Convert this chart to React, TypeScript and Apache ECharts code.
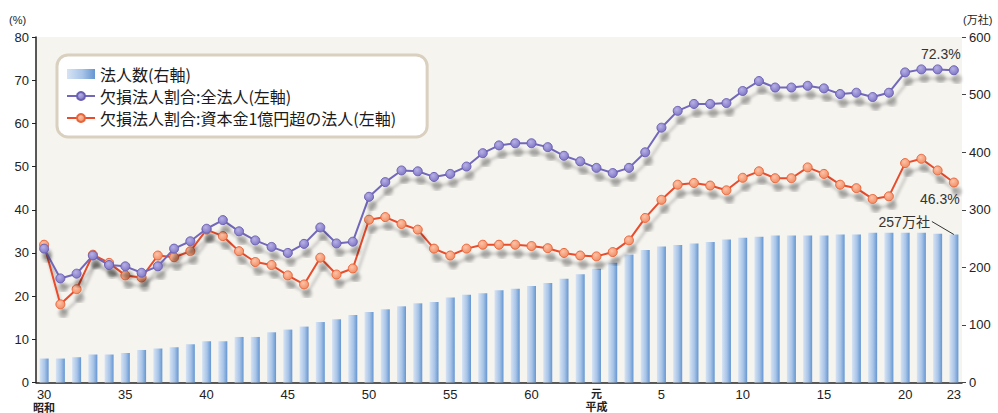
import React, { useEffect, useRef } from "react";
import * as echarts from "echarts";

// Fiscal years: Showa 30–63, then Heisei 元–23
const years = [
  "30", "31", "32", "33", "34", "35", "36", "37", "38", "39",
  "40", "41", "42", "43", "44", "45", "46", "47", "48", "49",
  "50", "51", "52", "53", "54", "55", "56", "57", "58", "59",
  "60", "61", "62", "63",
  "元", "2", "3", "4", "5", "6", "7", "8", "9", "10",
  "11", "12", "13", "14", "15", "16", "17", "18", "19", "20",
  "21", "22", "23",
];

// Number of corporations (万社, right axis)
const corpCount = [
  41.6, 41.6, 43.9, 48.6, 48.6, 51.4, 56.5, 59.0, 61.2, 66.4,
  71.6, 71.6, 79.1, 79.1, 87.2, 91.9, 97.1, 105.0, 109.8, 117.2,
  122.4, 127.1, 132.3, 137.5, 139.8, 147.4, 152.6, 154.8, 160.0, 163.0,
  167.5, 172.7, 180.3, 187.8,
  197.7, 208.0, 222.5, 230.0, 236.0, 238.6, 241.5, 243.8, 248.5, 251.4,
  253.2, 255.4, 255.4, 255.4, 255.4, 257.2, 257.2, 260.0, 260.0, 260.0,
  260.0, 258.5, 257,
];

// Share of loss-making corporations, all corporations (%, left axis)
const lossAll = [
  31.0, 24.1, 25.2, 29.4, 27.2, 26.9, 25.4, 26.9, 31.0, 32.7,
  35.6, 37.6, 35.0, 32.9, 31.4, 30.0, 32.1, 35.9, 32.2, 32.6,
  43.0, 46.4, 49.1, 48.9, 47.6, 48.3, 50.0, 53.1, 54.9, 55.4,
  55.4, 54.5, 52.5, 51.2,
  49.7, 48.5, 49.7, 53.3, 59.0, 62.9, 64.5, 64.5, 64.7, 67.5,
  69.8, 68.3, 68.3, 68.7, 68.1, 66.8, 67.1, 66.1, 67.1, 71.8,
  72.5, 72.5, 72.3,
];

// Share of loss-making corporations, capital over 100 million yen (%, left axis)
const lossLarge = [
  31.9, 18.1, 21.6, 29.6, 27.7, 24.8, 24.3, 29.4, 29.0, 30.4,
  35.4, 33.9, 30.4, 27.9, 27.2, 24.8, 22.7, 28.9, 25.0, 26.4,
  37.7, 38.3, 36.7, 35.4, 31.0, 29.4, 31.0, 31.9, 31.9, 31.9,
  31.6, 31.1, 30.0, 29.4,
  29.2, 30.2, 32.9, 38.1, 42.3, 45.8, 46.2, 45.6, 44.5, 47.4,
  48.9, 47.3, 47.3, 49.8, 48.3, 45.8, 45.0, 42.5, 43.1, 50.8,
  51.8, 49.1, 46.3,
];

const shownYearLabels = ["30", "35", "40", "45", "50", "55", "60", "元", "5", "10", "15", "20", "23"];
const leftTicks = { min: 0, max: 80, interval: 10 };
const rightTicks = { min: 0, max: 600, interval: 100 };

const seriesNames = [
  "法人数(右軸)",
  "欠損法人割合:全法人(左軸)",
  "欠損法人割合:資本金1億円超の法人(左軸)",
];

const FONT = '"Liberation Sans", "Noto Sans CJK JP", sans-serif';
const TEXT = "#222";

export default function App() {
  const ref = useRef<HTMLDivElement>(null);

  useEffect(() => {
    if (!ref.current) return;
    const chart = echarts.init(ref.current, undefined, { renderer: "svg" });
    const last = years.length - 1;

    const shadow = {
      shadowColor: "rgba(0,0,0,0.24)",
      shadowBlur: 3,
      shadowOffsetX: 3,
      shadowOffsetY: 9,
    };

    const barFill = new echarts.graphic.LinearGradient(0, 0, 1, 0, [
      { offset: 0, color: "#d6e3f4" },
      { offset: 0.55, color: "#a8c4e7" },
      { offset: 1, color: "#6496d1" },
    ]);
    const purpleFill = new echarts.graphic.RadialGradient(0.4, 0.35, 0.7, [
      { offset: 0, color: "#b7b1e4" },
      { offset: 1, color: "#7d73c6" },
    ]);
    const orangeFill = new echarts.graphic.RadialGradient(0.4, 0.35, 0.7, [
      { offset: 0, color: "#fbc3a8" },
      { offset: 1, color: "#f28a60" },
    ]);

    const unitLabels = [
      { type: "text", left: 9, top: 14, style: { text: "(%)", fontSize: 11, fill: TEXT, fontFamily: FONT } },
      { type: "text", left: 963, top: 14, style: { text: "(万社)", fontSize: 11, fill: TEXT, fontFamily: FONT } },
    ];

    chart.setOption({
      animation: false,
      textStyle: { fontFamily: FONT },
      grid: {
        left: 36,
        right: 36,
        top: 37,
        bottom: 30,
        show: true,
        backgroundColor: "#f5f4ef",
        borderWidth: 0,
      },
      legend: {
        orient: "vertical",
        left: 57,
        top: 55,
        backgroundColor: "#ffffff",
        borderColor: "#d9d0bf",
        borderWidth: 3,
        borderRadius: 11,
        padding: [11, 31, 11, 9],
        itemGap: 6,
        itemWidth: 28,
        itemHeight: 10,
        textStyle: { fontSize: 16, color: "#1a1a1a", fontFamily: '"Noto Sans CJK JP", sans-serif' },
        data: [
          { name: seriesNames[0], icon: "rect" },
          { name: seriesNames[1] },
          { name: seriesNames[2] },
        ],
      },
      xAxis: {
        type: "category",
        data: years,
        boundaryGap: true,
        axisLine: { lineStyle: { color: "#222", width: 1.5 } },
        axisTick: { inside: true, interval: 0, length: 4, lineStyle: { color: "#444" } },
        axisLabel: {
          interval: (_i: number, v: string) => shownYearLabels.includes(v),
          margin: 5,
          color: TEXT,
          formatter: (v: string) => {
            if (v === "30") return "{n|30}\n{e|昭和}";
            if (v === "元") return "{k|元}\n{e|平成}";
            return "{n|" + v + "}";
          },
          rich: {
            n: { fontSize: 13, color: TEXT, fontFamily: FONT, lineHeight: 14 },
            k: { fontSize: 11, color: TEXT, fontFamily: FONT, fontWeight: "bold", lineHeight: 13 },
            e: { fontSize: 11, color: TEXT, fontFamily: FONT, fontWeight: "bold", lineHeight: 12 },
          },
        },
      },
      yAxis: [
        {
          type: "value",
          ...leftTicks,
          position: "left",
          axisLine: { show: true, lineStyle: { color: "#222", width: 1.5 } },
          axisTick: { show: true, length: 4, lineStyle: { color: "#222" } },
          axisLabel: { color: TEXT, fontSize: 13, margin: 7 },
          splitLine: { show: false },
        },
        {
          type: "value",
          ...rightTicks,
          position: "right",
          axisLine: { show: false },
          axisTick: { show: true, length: 4, lineStyle: { color: "#444" } },
          axisLabel: { color: TEXT, fontSize: 13, margin: 7 },
          splitLine: { show: false },
        },
      ],
      series: [
        {
          name: seriesNames[0],
          type: "bar",
          yAxisIndex: 1,
          data: corpCount,
          barWidth: 9,
          itemStyle: { color: barFill },
          z: 1,
        },
        {
          name: seriesNames[1],
          type: "line",
          yAxisIndex: 0,
          data: lossAll.map((v, i) =>
            i === last
              ? {
                  value: v,
                  label: {
                    show: true,
                    position: "top",
                    distance: 4,
                    offset: [-13, 0],
                    formatter: "{c}%",
                    fontSize: 14,
                    color: "#333",
                  },
                }
              : v
          ),
          symbol: "circle",
          symbolSize: 9,
          color: "#7168bb",
          lineStyle: { color: "#7168bb", width: 2, ...shadow },
          itemStyle: { color: purpleFill, borderColor: "#6a60b2", borderWidth: 1, ...shadow },
          z: 3,
        },
        {
          name: seriesNames[2],
          type: "line",
          yAxisIndex: 0,
          data: lossLarge.map((v, i) =>
            i === last
              ? {
                  value: v,
                  label: {
                    show: true,
                    position: "bottom",
                    distance: 4,
                    offset: [-14, 0],
                    formatter: "{c}%",
                    fontSize: 14,
                    color: "#333",
                  },
                }
              : v
          ),
          symbol: "circle",
          symbolSize: 9,
          color: "#ea4b2b",
          lineStyle: { color: "#ea4b2b", width: 2, ...shadow },
          itemStyle: { color: orangeFill, borderColor: "#e8653a", borderWidth: 1, ...shadow },
          z: 2,
        },
      ],
      graphic: unitLabels,
    });

    // Callout for the latest corporation count, anchored to its bar top
    const top = chart.convertToPixel({ seriesIndex: 0 }, [last, corpCount[last]]) as number[];
    if (top) {
      chart.setOption({
        graphic: [
          ...unitLabels,
          {
            type: "line",
            shape: { x1: top[0] - 22, y1: top[1] - 13, x2: top[0], y2: top[1] },
            style: { stroke: "#333", lineWidth: 1 },
            z: 10,
          },
          {
            type: "text",
            x: top[0] - 24,
            y: top[1] - 13,
            style: {
              text: corpCount[last] + "万社",
              fontSize: 14,
              fill: "#333",
              fontFamily: FONT,
              align: "right",
              verticalAlign: "middle",
            },
            z: 10,
          },
        ],
      });
    }

    return () => chart.dispose();
  }, []);

  return (
    <div
      ref={ref}
      style={{ position: "fixed", left: 0, top: 0, width: 998, height: 413, background: "#fff" }}
    />
  );
}
